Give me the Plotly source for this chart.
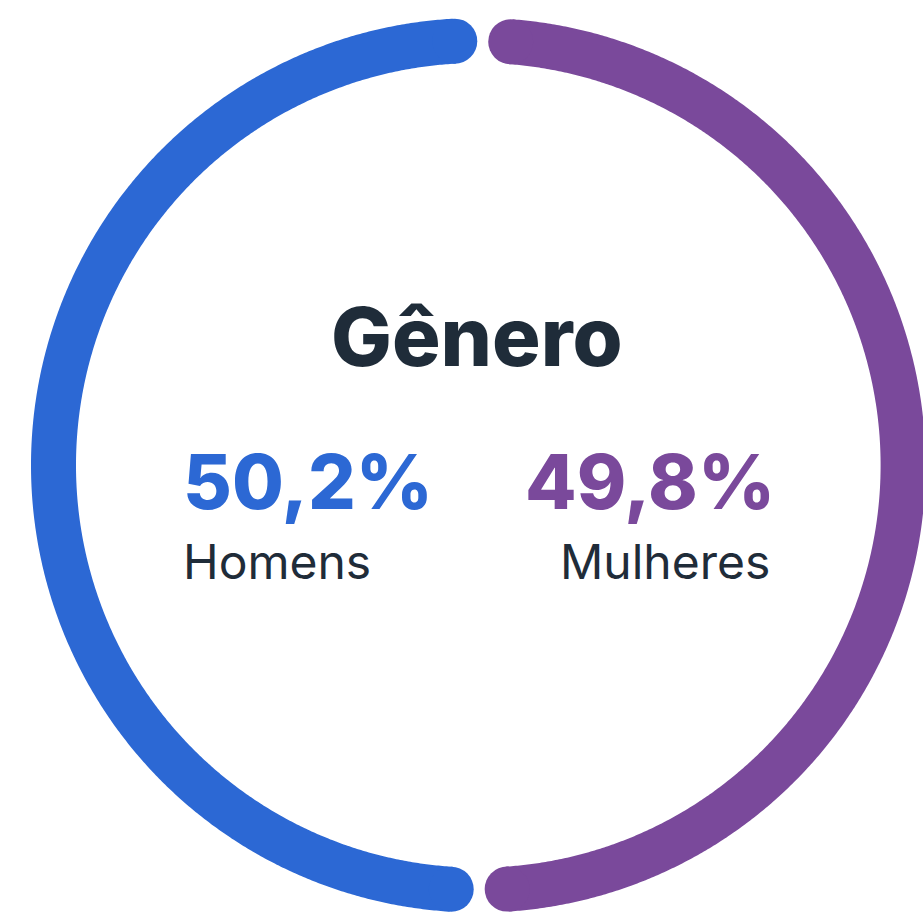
import numpy as np
import plotly.graph_objects as go

# ---- data ----
categories = ["Homens", "Mulheres"]
shares = [50.2, 49.8]
share_labels = ["50,2%", "49,8%"]
title_text = "Gênero"
colors = {"Homens": "#2c68d4", "Mulheres": "#7a499b"}

# ---- layout constants (pixels) ----
W, H = 923, 913
CX, CY = 478.3, 465.3
R = 424.8
STROKE = 45
GAP_PX = 28.0          # trimmed from each end of an arc (cap radius + half gap)
ROT = 0.6              # degrees clockwise from top where Mulheres starts

fig = go.Figure()

total = sum(shares)
pad = np.degrees(GAP_PX / R)
start = ROT
order = ["Mulheres", "Homens"]
vals = {c: v for c, v in zip(categories, shares)}
for cat in order:
    span = 360.0 * vals[cat] / total
    a0, a1 = start + pad, start + span - pad
    ang = np.radians(np.linspace(a0, a1, 600))
    xs = CX + R * np.sin(ang)
    ys = CY - R * np.cos(ang)
    fig.add_trace(go.Scatter(x=xs, y=ys, mode="lines",
                             line=dict(color=colors[cat], width=STROKE, simplify=False),
                             hoverinfo="skip", showlegend=False))
    fig.add_trace(go.Scatter(x=[xs[0], xs[-1]], y=[ys[0], ys[-1]], mode="markers",
                             marker=dict(color=colors[cat], size=STROKE, line=dict(width=0)),
                             hoverinfo="skip", showlegend=False))
    start += span

DARK = "#1f2c39"
ann = []
ann.append(dict(x=CX - 1, y=337, text=title_text, showarrow=False,
                xanchor="center", yanchor="middle",
                font=dict(family="Inter", size=81, weight=800, color=DARK)))
ann.append(dict(x=181, y=481, text=share_labels[0], showarrow=False,
                xanchor="left", yanchor="middle",
                font=dict(family="Inter", size=75, weight=800, color=colors["Homens"])))
ann.append(dict(x=181, y=561, text=categories[0], showarrow=False,
                xanchor="left", yanchor="middle",
                font=dict(family="Inter", size=48, color=DARK)))
ann.append(dict(x=777, y=481, text=share_labels[1], showarrow=False,
                xanchor="right", yanchor="middle",
                font=dict(family="Inter", size=75, weight=800, color=colors["Mulheres"])))
ann.append(dict(x=772, y=561, text=categories[1], showarrow=False,
                xanchor="right", yanchor="middle",
                font=dict(family="Inter", size=48, color=DARK)))

fig.update_layout(
    width=W, height=H, margin=dict(l=0, r=0, t=0, b=0),
    paper_bgcolor="white", plot_bgcolor="white",
    xaxis=dict(range=[0, W], visible=False, fixedrange=True),
    yaxis=dict(range=[H, 0], visible=False, fixedrange=True),
    annotations=ann, showlegend=False,
)
fig.write_html("out.html", config={"displayModeBar": False})
